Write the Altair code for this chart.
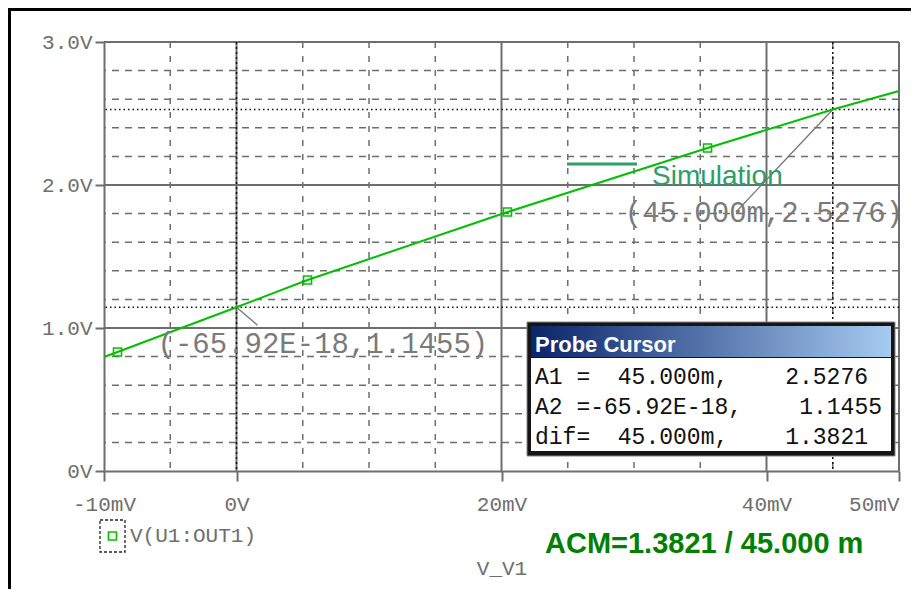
import altair as alt
import pandas as pd

# ---- data ----
line_x = [-10, -8.98, 0, 5.36, 20.45, 35.55, 45, 50]          # V_V1 (mV)
line_y = [0.797, 0.832, 1.1455, 1.336, 1.811, 2.259, 2.5276, 2.657]  # V(U1:OUT1)
mark_x = [-8.98, 5.36, 20.45, 35.55]
mark_y = [0.832, 1.336, 1.811, 2.259]

x_ticks = [-10, 0, 20, 40, 50]
y_ticks = [0, 1, 2, 3]
h_dash = [0.2, 0.4, 0.6, 0.8, 1.2, 1.4, 1.6, 1.8, 2.2, 2.4, 2.6, 2.8]
h_solid = [1, 2, 3]
v_dash = [-5, 5, 10, 15, 25, 30, 35, 45]
v_solid = [0, 20, 40, 50]
cursor_y = [2.5276, 1.1455]
cursor_x = [45, 0]

NB = "\u00a0"
probe_rows = ["A1 =" + NB * 2 + "45.000m,", "A2 =-65.92E-18,", "dif=" + NB * 2 + "45.000m,"]
probe_vals = ["2.5276", "1.1455", "1.3821"]

W, H = 795, 429
GRAY = "#6e6e6e"
GREEN = "#00c000"
MONO = "Liberation Mono"

xs = alt.Scale(domain=[-10, 50], nice=False, zero=False)
ys = alt.Scale(domain=[0, 3], nice=False, zero=False)

x_axis = alt.Axis(values=x_ticks,
                  labelExpr="datum.value == 0 ? '0V' : datum.value + 'mV'",
                  labelAlign={"condition": {"test": "datum.value == 50", "value": "right"},
                              "value": "center"},
                  labelFont=MONO, labelFontSize=21, labelColor=GRAY,
                  tickSize=10, tickColor=GRAY, tickWidth=2,
                  domainColor=GRAY, domainWidth=2, grid=False,
                  labelPadding=12, title=None, labelFlush=False)
y_axis = alt.Axis(values=y_ticks,
                  labelExpr="datum.value == 0 ? '0V' : format(datum.value, '.1f') + 'V'",
                  labelFont=MONO, labelFontSize=21, labelColor=GRAY,
                  tickSize=9, tickColor=GRAY, tickWidth=2,
                  domainColor=GRAY, domainWidth=2, grid=False,
                  labelPadding=3, title=None, labelFlush=False)


def X(f):
    return alt.X(f, scale=xs, axis=x_axis)


def Y(f):
    return alt.Y(f, scale=ys, axis=y_axis)


one = pd.DataFrame({"a": [0]})

hd = alt.Chart(pd.DataFrame({"v": h_dash})).mark_rule(
    color=GRAY, strokeWidth=1.5, strokeDash=[7, 6]).encode(y=Y("v:Q"))
hs = alt.Chart(pd.DataFrame({"v": h_solid})).mark_rule(
    color=GRAY, strokeWidth=2).encode(y=Y("v:Q"))
vd = alt.Chart(pd.DataFrame({"v": v_dash})).mark_rule(
    color=GRAY, strokeWidth=1.5, strokeDash=[6, 8]).encode(x=X("v:Q"))
vs = alt.Chart(pd.DataFrame({"v": v_solid})).mark_rule(
    color=GRAY, strokeWidth=2).encode(x=X("v:Q"))
ch = alt.Chart(pd.DataFrame({"v": cursor_y})).mark_rule(
    color="#111111", strokeWidth=1.5, strokeDash=[1.5, 3]).encode(y=Y("v:Q"))
cv = alt.Chart(pd.DataFrame({"v": cursor_x})).mark_rule(
    color="#111111", strokeWidth=1.5, strokeDash=[2, 3]).encode(x=X("v:Q"))

curve = alt.Chart(pd.DataFrame({"x": line_x, "y": line_y})).mark_line(
    color=GREEN, strokeWidth=2).encode(x=X("x:Q"), y=Y("y:Q"))
marks = alt.Chart(pd.DataFrame({"x": mark_x, "y": mark_y})).mark_point(
    shape="square", filled=False, color=GREEN, strokeWidth=1.6, size=64, opacity=1).encode(
    x=X("x:Q"), y=Y("y:Q"))

# leader lines from the cursor points to their labels
lead = alt.Chart(pd.DataFrame({"x": [0, 45], "y": [1.1455, 2.5276],
                               "x2": [1.58, 37.7], "y2": [1.02, 1.811]})).mark_rule(
    color="#777777", strokeWidth=1.3).encode(
    x=X("x:Q"), y=Y("y:Q"), x2="x2:Q", y2="y2:Q")

labels = alt.Chart(pd.DataFrame({
    "x": [-5.96, 29.3], "y": [0.825, 1.741],
    "t": ["(-65.92E-18,1.1455)", "(45.000m,2.5276)"]})).mark_text(
    font=MONO, fontSize=29, color="#7a7a7a", align="left", baseline="alphabetic").encode(
    x=X("x:Q"), y=Y("y:Q"), text="t:N")


def txt(s, x, y, **kw):
    return alt.Chart(one).mark_text(text=s, **kw).encode(x=alt.value(x), y=alt.value(y))


sim_line = alt.Chart(one).mark_rule(color="#2e9e6a", strokeWidth=3).encode(
    x=alt.value(463), x2=alt.value(533), y=alt.value(122))
sim_text = txt("Simulation", 548, 143, font="Liberation Sans", fontSize=28,
               color="#2e9e6a", align="left", baseline="alphabetic")

# Probe Cursor window
box_outer = alt.Chart(one).mark_rect(fill="#151515", stroke="#888888", strokeWidth=1).encode(
    x=alt.value(423), x2=alt.value(791), y=alt.value(280), y2=alt.value(414))
box_title = alt.Chart(one).mark_rect(
    fill={"gradient": "linear", "x1": 0, "y1": 0, "x2": 1, "y2": 0,
          "stops": [{"offset": 0, "color": "#0a246a"},
                    {"offset": 1, "color": "#a6caf0"}]}).encode(
    x=alt.value(427), x2=alt.value(787), y=alt.value(284), y2=alt.value(315))
box_body = alt.Chart(one).mark_rect(fill="white").encode(
    x=alt.value(427), x2=alt.value(787), y=alt.value(316), y2=alt.value(409))
box_head = txt("Probe Cursor", 431, 310, font="Liberation Sans", fontWeight="bold",
               fontSize=22, color="white", align="left", baseline="alphabetic")
row_y = [342, 372, 402]
val_x = [764, 778, 764]
box_text = []
for s, v, py, vx in zip(probe_rows, probe_vals, row_y, val_x):
    box_text.append(txt(s, 431, py, font=MONO, fontSize=23, color="#111111",
                        align="left", baseline="alphabetic"))
    box_text.append(txt(v, vx, py, font=MONO, fontSize=23, color="#111111",
                        align="right", baseline="alphabetic"))

# bottom legend and titles
leg_box = alt.Chart(one).mark_rect(fill="white", stroke="#222222", strokeWidth=1.3,
                                   strokeDash=[3, 2]).encode(
    x=alt.value(-4), x2=alt.value(21), y=alt.value(478), y2=alt.value(510))
leg_mark = alt.Chart(one).mark_point(shape="square", filled=False, color=GREEN,
                                     strokeWidth=1.6, size=64, opacity=1).encode(
    x=alt.value(8.5), y=alt.value(494))
leg_text = txt("V(U1:OUT1)", 26, 494, font=MONO, fontSize=21, color=GRAY,
               align="left", baseline="middle")
x_title = txt("V_V1", 398, 527, font=MONO, fontSize=21, color=GRAY,
              align="center", baseline="middle")
acm = txt("ACM=1.3821 / 45.000 m", 441, 511, font="Liberation Sans", fontWeight="bold",
          fontSize=29, color="#008000", align="left", baseline="alphabetic")

frame_top = alt.Chart(one).mark_rule(color="black", strokeWidth=3).encode(
    x=alt.value(-96), x2=alt.value(W + 20), y=alt.value(-32.5))
frame_left = alt.Chart(one).mark_rule(color="black", strokeWidth=3).encode(
    x=alt.value(-94.5), y=alt.value(-34), y2=alt.value(H + 130))

chart = alt.layer(
    hd, hs, vd, vs, ch, cv, curve, marks, lead, labels, sim_line, sim_text,
    box_outer, box_title, box_body, box_head, *box_text,
    leg_box, leg_mark, leg_text, x_title, acm, frame_top, frame_left
).properties(
    width=W, height=H,
    autosize=alt.AutoSizeParams(type="none"),
    padding={"left": 96, "top": 34, "right": 12, "bottom": 118},
    background="white"
).configure_view(stroke=None)

chart.save("out.html", embed_options={"renderer": "svg", "actions": False})
